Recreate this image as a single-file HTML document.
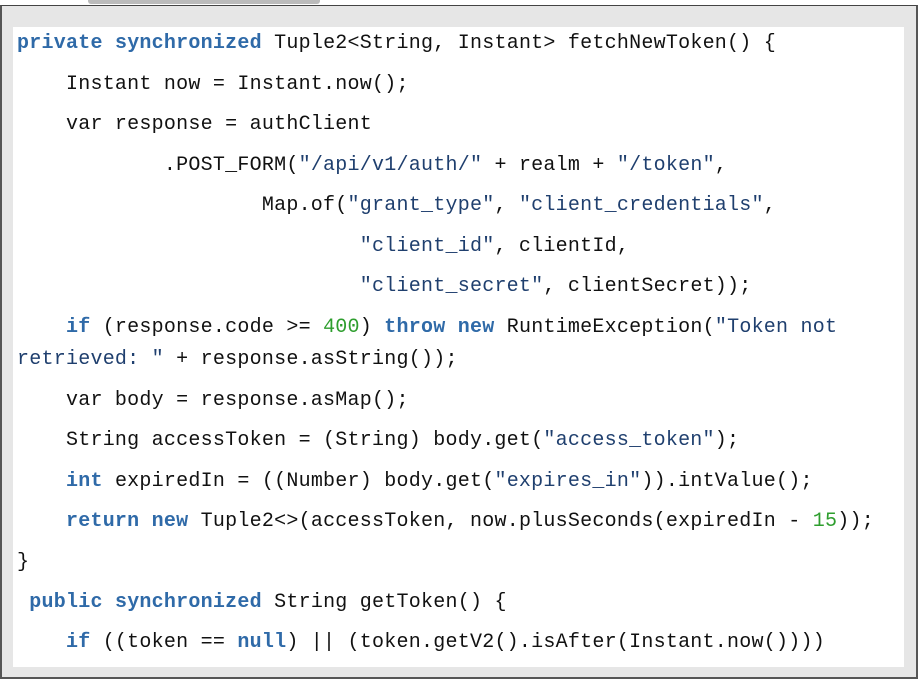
<!DOCTYPE html>
<html><head><meta charset="utf-8"><style>
html,body{margin:0;padding:0;background:#fff;width:918px;height:679px;overflow:hidden;position:relative}
.sh{position:absolute;left:88px;top:0;width:232px;height:4px;background:#bbb;border-radius:0 0 3px 3px}
.outer{position:absolute;left:0;top:5px;width:914px;height:671px;border:2px solid #555;border-top:1px solid #444;background:#e6e6e6}
.inner{position:absolute;left:13px;top:27px;width:891px;height:640px;background:#fff}
.l{position:absolute;left:17px;font-family:"Liberation Mono",monospace;font-size:20px;letter-spacing:0.24px;white-space:pre;color:#111;line-height:24px}
.k{color:#2f6aa8;font-weight:bold}
.s{color:#1f3f6e}
.n{color:#2e9e2e}
</style></head><body>
<div class="sh"></div>
<div class="outer"></div>
<div class="inner"></div>
<div class="l" style="top:32px"><span class="k">private</span> <span class="k">synchronized</span> Tuple2&lt;String, Instant&gt; fetchNewToken() {</div>
<div class="l" style="top:73px">    Instant now = Instant.now();</div>
<div class="l" style="top:113px">    var response = authClient</div>
<div class="l" style="top:154px">            .POST_FORM(<span class="s">"/api/v1/auth/"</span> + realm + <span class="s">"/token"</span>,</div>
<div class="l" style="top:194px">                    Map.of(<span class="s">"grant_type"</span>, <span class="s">"client_credentials"</span>,</div>
<div class="l" style="top:235px">                            <span class="s">"client_id"</span>, clientId,</div>
<div class="l" style="top:275px">                            <span class="s">"client_secret"</span>, clientSecret));</div>
<div class="l" style="top:316px">    <span class="k">if</span> (response.code &gt;= <span class="n">400</span>) <span class="k">throw</span> <span class="k">new</span> RuntimeException(<span class="s">"Token not</span></div>
<div class="l" style="top:348px"><span class="s">retrieved: "</span> + response.asString());</div>
<div class="l" style="top:389px">    var body = response.asMap();</div>
<div class="l" style="top:429px">    String accessToken = (String) body.get(<span class="s">"access_token"</span>);</div>
<div class="l" style="top:470px">    <span class="k">int</span> expiredIn = ((Number) body.get(<span class="s">"expires_in"</span>)).intValue();</div>
<div class="l" style="top:510px">    <span class="k">return</span> <span class="k">new</span> Tuple2&lt;&gt;(accessToken, now.plusSeconds(expiredIn - <span class="n">15</span>));</div>
<div class="l" style="top:551px">}</div>
<div class="l" style="top:591px"> <span class="k">public</span> <span class="k">synchronized</span> String getToken() {</div>
<div class="l" style="top:631px">    <span class="k">if</span> ((token == <span class="k">null</span>) || (token.getV2().isAfter(Instant.now())))</div>
</body></html>
